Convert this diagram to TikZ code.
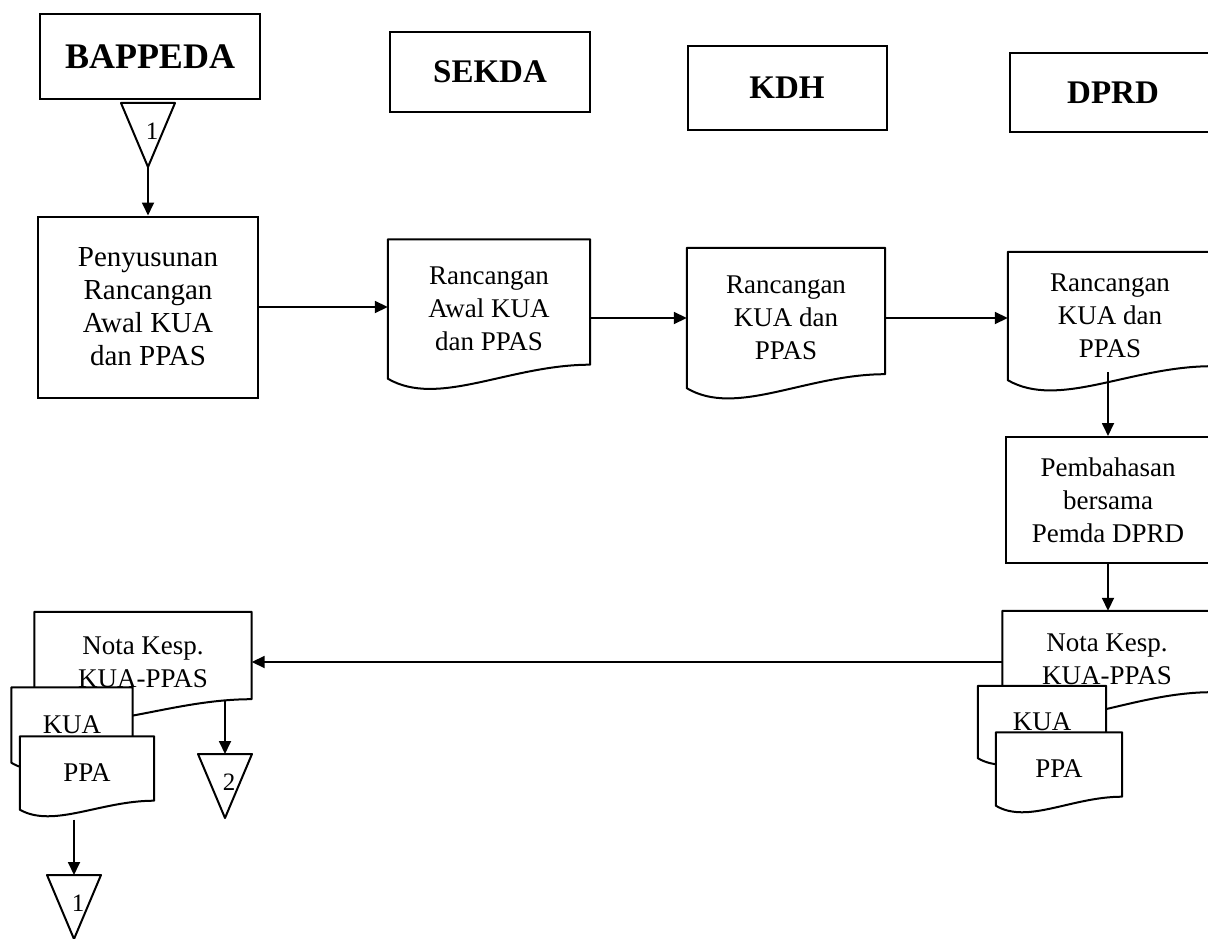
\documentclass[tikz,border=0pt]{standalone}
\usepackage{fontspec}
\setmainfont{Liberation Serif}
\usepackage{tikz}
\usetikzlibrary{arrows.meta, calc, backgrounds}

\tikzset{
  head/.style={draw, line width=2pt, inner sep=0pt, font=\fontsize{33}{38}\selectfont\bfseries},
  procbox/.style={draw, line width=2pt, inner sep=0pt, align=center, font=\fontsize{27}{33}\selectfont},
  docbox/.style={inner sep=0pt, align=center, font=\fontsize{27}{33}\selectfont},
  docline/.style={draw, fill=white, line width=2pt, line join=round},
  flow/.style={->, line width=1.8pt},
  trinum/.style={inner sep=0pt, font=\fontsize{25}{25}\selectfont},
}
% document outline: straight top, wavy bottom, right corner raised by #2
\newcommand{\docoutline}[2]{%
  \draw[docline] (#1.north west) -- (#1.north east) -- ([yshift=#2]#1.south east)
    .. controls ($(#1.south west)!0.6!(#1.south east)+(0pt,#2)$)
    and ($(#1.south west)!0.25!(#1.south east)-(0pt,2.1*#2)$) .. (#1.south west) -- cycle;}
% off-page connector: name, x, y of top middle, label
\newcommand{\pagemark}[4]{%
  \coordinate (#1) at (#2,#3);
  \draw[docline] ([xshift=-27pt]#1) -- ([xshift=27pt]#1) -- ([yshift=-64pt]#1) coordinate (#1-apex) -- cycle;
  \node[trinum] (#1-num) at ([xshift=4pt,yshift=-28pt]#1) {#4};}

\begin{document}
\begin{tikzpicture}[>={Triangle[length=13pt,width=12pt]}, x=1pt, y=-1pt]
  \useasboundingbox (0,0) rectangle (1208,939);

  % column heads
  \node[head, minimum width=220pt, minimum height=85pt, font=\fontsize{36}{40}\selectfont\bfseries] (bappeda) at (150,57) {BAPPEDA};
  \node[head, minimum width=200pt, minimum height=80pt] (sekda) at (490,72) {SEKDA};
  \node[head, minimum width=199pt, minimum height=84pt] (kdh) at (787,88) {KDH};
  \node[head, minimum width=206pt, minimum height=79pt] (dprd) at (1113,93) {DPRD};

  \pagemark{start}{148}{103}{1}
  \node[procbox, minimum width=220pt, minimum height=181pt, font=\fontsize{29}{33}\selectfont] (susun) at (148,307)
    {Penyusunan\\Rancangan\\Awal KUA\\dan PPAS};
  \node[docbox, minimum width=202pt, minimum height=139pt] (awal) at (489,309)
    {Rancangan\\Awal KUA\\dan PPAS};
  \node[docbox, minimum width=198pt, minimum height=140pt] (rkdh) at (786,318)
    {Rancangan\\KUA dan\\PPAS};
  \node[docbox, minimum width=204pt, minimum height=128pt] (rdprd) at (1110,316)
    {Rancangan\\KUA dan\\PPAS};
  \node[procbox, minimum width=204pt, minimum height=126pt] (bahas) at (1108,500)
    {Pembahasan\\bersama\\Pemda DPRD};

  % nota kesepakatan, DPRD side
  \node[docbox, minimum width=209pt, minimum height=96pt] (notadprd) at (1107,659) {Nota Kesp.\\KUA-PPAS};
  \node[docbox, minimum width=128pt, minimum height=72pt] (kuadprd) at (1042,722) {KUA};
  \node[docbox, minimum width=126pt, minimum height=73pt] (ppadprd) at (1059,769) {PPA};

  % nota kesepakatan, BAPPEDA side
  \node[docbox, minimum width=217pt, minimum height=100pt] (notabap) at (143,662) {Nota Kesp.\\KUA-PPAS};
  \node[docbox, minimum width=121pt, minimum height=75pt] (kuabap) at (72,725) {KUA};
  \node[docbox, minimum width=134pt, minimum height=73pt] (ppabap) at (87,773) {PPA};

  \pagemark{next}{225}{754}{2}
  \pagemark{back}{74}{875}{1}

  \begin{scope}[on background layer]
    \docoutline{awal}{14pt}
    \docoutline{rkdh}{14pt}
    \docoutline{rdprd}{14pt}
    \docoutline{notadprd}{15pt}
    \docoutline{kuadprd}{9pt}
    \docoutline{ppadprd}{9pt}
    \docoutline{notabap}{13pt}
    \docoutline{kuabap}{9pt}
    \docoutline{ppabap}{9pt}
  \end{scope}

  \draw[flow] (start-apex) -- (susun.north);
  \draw[flow] (susun.east) -- (susun.east -| awal.west);
  \draw[flow] (awal.east |- rkdh.west) -- (rkdh.west);
  \draw[flow] (rkdh.east) -- (rkdh.east -| rdprd.west);
  \draw[flow] ([yshift=8pt]bahas.north |- rdprd.south) -- (bahas.north);
  \draw[flow] (bahas.south) -- (bahas.south |- notadprd.north);
  \draw[flow] ([yshift=-3pt]notadprd.west) -- ([yshift=-3pt]notadprd.west -| notabap.east);
  \draw[flow] ([yshift=12pt]notabap.south -| next) -- (next);
  \draw[flow] ([yshift=-10pt]ppabap.south -| back) -- (back);
\end{tikzpicture}
\end{document}
